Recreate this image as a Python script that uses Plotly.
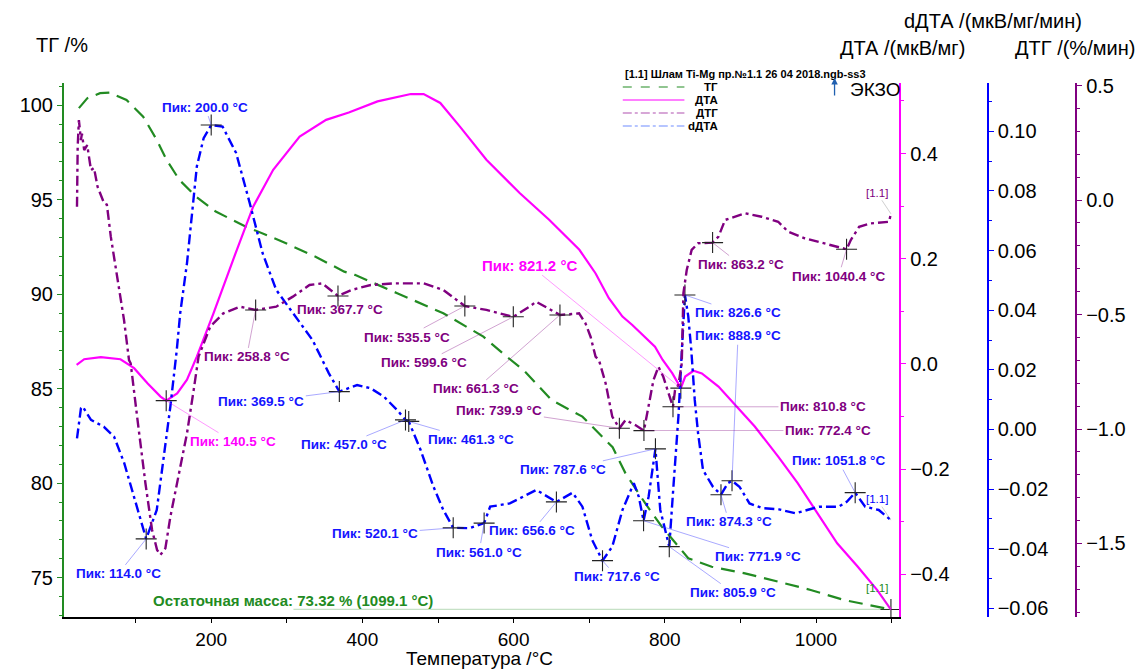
import numpy as np
import plotly.graph_objects as go

FONT = "Liberation Sans, Arial, sans-serif"

# ---------------- data ----------------
# ТГ (%)
tg_T = [25, 36, 53, 66, 88, 110, 128, 141, 158, 180, 206, 246, 289, 338, 376, 390, 446, 507, 560, 590, 613,
        650, 691, 713, 731, 748, 774, 796, 814, 831, 862, 906, 950, 993, 1037, 1072, 1099.1]
tg_v = [99.84, 100.36, 100.63, 100.66, 100.27, 99.39, 98.16, 97.10, 96.04, 95.16, 94.37, 93.57, 92.87, 91.98,
        91.19, 91.02, 90.05, 88.99, 87.75, 86.72, 85.99, 84.40, 83.52, 82.64, 81.90, 80.52, 78.94, 77.70, 76.82,
        76.03, 75.58, 75.23, 74.79, 74.35, 73.82, 73.56, 73.32]

# ДТА (мкВ/мг)
dta_T = [22, 32, 54, 80, 98, 116, 133, 140.5, 155, 168, 181, 203, 229, 255.5, 282, 317, 352, 382, 420, 464, 481,
         503, 529, 564, 608, 647, 687, 708.5, 726, 744, 757, 787, 797, 810, 821.2, 827, 838, 849, 871, 893, 919,
         950, 976, 1002, 1028, 1055, 1081, 1099.1]
dta_v = [-0.002, 0.009, 0.013, 0.009, -0.008, -0.037, -0.062, -0.0698, -0.056, -0.030, 0.014, 0.096, 0.198,
         0.299, 0.369, 0.432, 0.464, 0.478, 0.499, 0.513, 0.513, 0.496, 0.451, 0.388, 0.325, 0.274, 0.217, 0.172,
         0.125, 0.090, 0.074, 0.033, 0.008, -0.018, -0.046, -0.024, -0.013, -0.018, -0.043, -0.078, -0.119,
         -0.176, -0.227, -0.284, -0.341, -0.385, -0.430, -0.467]

# ДТГ (%/мин)
dtg_T = [22.5, 23.4, 25, 27.7, 29, 32, 36, 41, 45, 49.7, 58.4, 62, 67.2, 76, 84.7, 91.3, 93.5, 102, 113, 121.8,
         128.4, 132.8, 139.4, 146, 157, 168, 176.8, 183.3, 198.7, 216, 238, 258.8, 286, 308, 330, 347, 367.7,
         385.5, 411, 441.7, 481, 507, 535.5, 564, 599.6, 621, 629.8, 661.3, 686.6, 695, 701.8, 708.4, 713, 721.7,
         730.5, 739.9, 748, 752, 761, 772.4, 778.6, 785, 791.6, 798, 805, 810.8, 813.5, 818, 822.4, 824.6, 829,
         835.5, 844, 863.2, 871, 879.7, 906, 928, 950, 963, 985, 1011, 1040.4, 1046, 1057, 1072.6, 1096.6, 1099]
dtg_v = [-0.029, 0.233, 0.349, 0.262, 0.29, 0.218, 0.24, 0.131, 0.14, 0.058, -0.015, -0.02, -0.16, -0.349,
         -0.524, -0.699, -0.713, -0.946, -1.237, -1.441, -1.528, -1.55, -1.521, -1.383, -1.193, -1.019, -0.83,
         -0.684, -0.553, -0.495, -0.466, -0.48, -0.466, -0.422, -0.371, -0.364, -0.419, -0.393, -0.371, -0.364,
         -0.364, -0.393, -0.463, -0.48, -0.51, -0.466, -0.444, -0.502, -0.495, -0.538, -0.597, -0.684, -0.70,
         -0.80, -0.946, -0.997, -0.961, -0.968, -0.983, -1.007, -0.903, -0.786, -0.728, -0.772, -0.844, -0.903,
         -0.83, -0.808, -0.713, -0.407, -0.306, -0.218, -0.189, -0.186, -0.16, -0.087, -0.058, -0.073, -0.095,
         -0.138, -0.167, -0.189, -0.215, -0.175, -0.117, -0.102, -0.095, -0.06]

# dДТА (мкВ/мг/мин)
ddta_T = [22.5, 27.7, 30, 41, 58, 71.5, 85, 98, 111, 114, 128, 137, 146, 154.5, 159, 168, 174.5, 181, 190, 200,
          215, 233, 251, 268, 286, 312, 334, 347, 355.5, 369.5, 386, 393, 411, 428.5, 446, 457, 461.3, 477, 494,
          507, 520.1, 542, 561, 569, 595, 621, 630, 656.6, 678, 691, 704, 717.6, 730.5, 744, 759, 765.5, 771.9,
          778.6, 787.6, 794, 805.9, 811.7, 818, 822.6, 826.6, 831, 835, 839.6, 844, 850.5, 863.6, 874.3, 883.4,
          888.9, 898.7, 912, 929, 951, 973, 1004, 1030, 1041, 1051.8, 1065, 1083, 1099]
ddta_v = [-0.003, 0.0071, 0.0077, 0.0032, 0.0009, -0.0024, -0.0113, -0.0225, -0.0337, -0.0367, -0.027, -0.0102,
          0.0077, 0.0267, 0.039, 0.0558, 0.0725, 0.0882, 0.0977, 0.1021, 0.1016, 0.0927, 0.0759, 0.0591, 0.0468,
          0.0378, 0.030, 0.0233, 0.0189, 0.0127, 0.0144, 0.0149, 0.0138, 0.011, 0.0065, 0.0032, 0.0027, -0.0069,
          -0.0192, -0.027, -0.033, -0.0331, -0.0314, -0.0259, -0.0248, -0.0214, -0.0203, -0.0243, -0.0212,
          -0.0259, -0.0371, -0.044, -0.0393, -0.027, -0.018, -0.0225, -0.0306, -0.0225, -0.0065, -0.027, -0.0393,
          -0.018, 0.0043, 0.0267, 0.0451, 0.038, 0.0267, 0.0099, -0.0013, -0.0136, -0.0192, -0.0219, -0.018,
          -0.0172, -0.0192, -0.0248, -0.0264, -0.0268, -0.0281, -0.0259, -0.0259, -0.0242, -0.0212, -0.0259,
          -0.027, -0.0304]

# peaks
ddta_peaks = [114.0, 200.0, 369.5, 457.0, 461.3, 520.1, 561.0, 656.6, 717.6, 771.9, 787.6, 805.9, 826.6, 874.3,
              888.9, 1051.8]
dta_peaks = [140.5, 821.2]
dtg_peaks = [258.8, 367.7, 535.5, 599.6, 661.3, 739.9, 772.4, 810.8, 863.2, 1040.4]
residual_T = 1099.1
residual_mass = 73.32

# label offsets (pixels)
ddta_off = [(-28, 35), (-6, -18), (-78, 10), (-61, 25), (62, 18), (-78, 6), (-5, 29), (-24, 29), (14, 16),
            (114, 36), (-92, 21), (64, 46), (53, 18), (8, 27), (6, -145), (-17, -32)]
dta_off = [(67, 41), (-151, -123)]
dtg_off = [(-9, 47), (2, 14), (-58, 31), (-89, 46), (-84, 74), (-120, -18), (184, 0), (150, 0), (28, 22),
           (-8, 27)]

GREEN = "#228b22"
MAG = "#ff00ff"
BLUE = "#0000ff"
PURP = "#800080"

# ---------------- layout geometry ----------------
# page body has an 8px margin, so the figure is shifted by 8px; compensate
OFF = 8
W, H = 1143 - OFF, 670 - OFF
L, R, T_, B = 58 - OFF, 40, 83 - OFF, 53
PW, PH = W - L - R, H - T_ - B


def px(x):
    return (x - OFF - L) / PW


def py(y):
    return (T_ + PH - (y - OFF)) / PH


fig = go.Figure()

fig.add_trace(go.Scatter(x=tg_T, y=tg_v, mode="lines", yaxis="y",
                         line=dict(color=GREEN, width=2.2, dash="14px,8px"), name="ТГ"))
fig.add_trace(go.Scatter(x=dta_T, y=dta_v, mode="lines", yaxis="y2",
                         line=dict(color=MAG, width=2.2), name="ДТА"))
fig.add_trace(go.Scatter(x=dtg_T, y=dtg_v, mode="lines", yaxis="y4",
                         line=dict(color=PURP, width=2.4, dash="10px,4px,3px,4px"), name="ДТГ"))
fig.add_trace(go.Scatter(x=ddta_T, y=ddta_v, mode="lines", yaxis="y3",
                         line=dict(color=BLUE, width=2.4, dash="10px,4px,3px,4px"), name="dДТА"))

# peak markers
ddta_pv = list(np.interp(ddta_peaks, ddta_T, ddta_v))
dta_pv = list(np.interp(dta_peaks, dta_T, dta_v))
dtg_pv = list(np.interp(dtg_peaks, dtg_T, dtg_v))
mk = dict(symbol="cross-thin", size=15, line=dict(color="#222222", width=1.1))
fig.add_trace(go.Scatter(x=ddta_peaks, y=ddta_pv, mode="markers", yaxis="y3", marker=mk))
fig.add_trace(go.Scatter(x=dta_peaks, y=dta_pv, mode="markers", yaxis="y2", marker=mk))
fig.add_trace(go.Scatter(x=dtg_peaks, y=dtg_pv, mode="markers", yaxis="y4", marker=mk))
fig.add_trace(go.Scatter(x=[residual_T], y=[residual_mass], mode="markers", yaxis="y", marker=mk))

ann = []


def peak_ann(T, v, yref, off, color, acolor, size=13.5):
    ann.append(dict(x=T, y=v, xref="x", yref=yref, ax=off[0], ay=off[1], showarrow=True, arrowhead=0,
                    arrowwidth=0.8, arrowcolor=acolor, standoff=0, startstandoff=0,
                    text="Пик: %.1f °C" % T,
                    font=dict(family=FONT, size=size, color=color, weight="bold")))


for T, v, o in zip(ddta_peaks, ddta_pv, ddta_off):
    peak_ann(T, v, "y3", o, "#1414ff", "rgba(60,60,255,0.55)")
for i, (T, v, o) in enumerate(zip(dta_peaks, dta_pv, dta_off)):
    peak_ann(T, v, "y2", o, MAG, "rgba(255,0,255,0.5)", 13.5 if i == 0 else 15)
for T, v, o in zip(dtg_peaks, dtg_pv, dtg_off):
    peak_ann(T, v, "y4", o, PURP, "rgba(128,0,128,0.45)")


# paper-space text helper
def txt(x, y, s, size=20, xanchor="center", color="black", weight="normal"):
    ann.append(dict(x=px(x), y=py(y), xref="paper", yref="paper", text=s, showarrow=False,
                    xanchor=xanchor, yanchor="middle",
                    font=dict(family=FONT, size=size, color=color, weight=weight)))


# residual mass: connector line + label
ann.append(dict(x=residual_T, y=residual_mass, xref="x", yref="y", ax=-599, ay=0, showarrow=True,
                arrowhead=0, arrowwidth=1.2, arrowcolor="rgba(34,139,34,0.25)", standoff=0, text=""))
txt(145, 600, "Остаточная масса: %.2f %% (%.1f °C)" % (residual_mass, residual_T), size=15, xanchor="left",
    color=GREEN, weight="bold")

# [1.1] end tags
for xx, yy, yref, col in [(ddta_T[-1], ddta_v[-1], "y3", BLUE), (dtg_T[-1], dtg_v[-1], "y4", PURP),
                          (tg_T[-1], tg_v[-1], "y", GREEN)]:
    ann.append(dict(x=xx, y=yy, xref="x", yref=yref, ax=-14, ay=-21, showarrow=True, arrowhead=0,
                    arrowwidth=0.7, arrowcolor="rgba(120,120,120,0.5)", text="[1.1]",
                    font=dict(family=FONT, size=11.5, color=col)))

# axis titles
txt(56, 45, "ТГ /%")
txt(992, 21, "dДТА /(мкВ/мг/мин)")
txt(966, 48, "ДТА /(мкВ/мг)", xanchor="right")
txt(1075, 48, "ДТГ /(%/мин)")
txt(476, 658.5, "Температура /°C", size=19)

# legend (drawn manually)
txt(620, 74, "[1.1] Шлам Ti-Mg пр.№1.1 26 04 2018.ngb-ss3", size=11, xanchor="left", weight="bold")
shapes = []
leg = [("ТГ", 87, GREEN, "dash"), ("ДТА", 100, MAG, "solid"), ("ДТГ", 113, "#b050b0", "dashdot"),
       ("dДТА", 126, "#6f8cff", "dashdot")]
for name, yy, col, dash in leg:
    shapes.append(dict(type="line", xref="paper", yref="paper", x0=px(620), x1=px(682), y0=py(yy), y1=py(yy),
                       line=dict(color=col, width=1.2, dash=dash)))
    txt(718, yy, name, size=11.5, xanchor="right", weight="bold")

# EXO arrow
ann.append(dict(x=px(833), y=py(78), xref="paper", yref="paper", ax=0, ay=19, showarrow=True, arrowhead=2,
                arrowsize=1, arrowwidth=1.3, arrowcolor="#2060b0", text=""))
txt(847, 89, "ЭКЗО", size=19, xanchor="left")

tickfont = dict(family=FONT, size=20, color="black")
xtickfont = dict(family=FONT, size=19, color="black")
xdom_end = px(898)

fig.update_layout(
    width=W, height=H, margin=dict(l=L, r=R, t=T_, b=B),
    paper_bgcolor="white", plot_bgcolor="white", showlegend=False,
    xaxis=dict(domain=[0, xdom_end], range=[5.3, 1110], showgrid=False, zeroline=False, showline=True,
               linecolor="black", linewidth=1.5, ticks="outside", ticklen=4, tickcolor="black",
               tick0=0, dtick=200, tickfont=xtickfont,
               minor=dict(dtick=100, ticks="outside", ticklen=4, tickcolor="black", showgrid=False)),
    yaxis=dict(range=[72.92, 101.17], showgrid=False, zeroline=False, showline=True, linecolor=GREEN,
               linewidth=2, ticks="outside", ticklen=5, tickcolor=GREEN, tick0=0, dtick=5, tickfont=tickfont,
               minor=dict(dtick=1, ticks="outside", ticklen=3, tickcolor=GREEN, showgrid=False)),
    yaxis2=dict(range=[-0.481, 0.534], overlaying="y", side="right", anchor="x", showgrid=False,
                zeroline=False, showline=True, linecolor=MAG, linewidth=2, ticks="outside", ticklen=5,
                tickcolor=MAG, tick0=0, dtick=0.2, tickformat=".1f", tickfont=tickfont,
                minor=dict(dtick=0.1, ticks="outside", ticklen=3, tickcolor=MAG, showgrid=False)),
    yaxis3=dict(range=[-0.0629, 0.1162], overlaying="y", side="right", anchor="free", position=px(987),
                showgrid=False, zeroline=False, showline=True, linecolor=BLUE, linewidth=2, ticks="outside",
                ticklen=5, tickcolor=BLUE, tick0=0, dtick=0.02, tickformat=".2f", tickfont=tickfont,
                minor=dict(dtick=0.01, ticks="outside", ticklen=3, tickcolor=BLUE, showgrid=False)),
    yaxis4=dict(range=[-1.821, 0.511], overlaying="y", side="right", anchor="free", position=px(1076),
                showgrid=False, zeroline=False, showline=True, linecolor=PURP, linewidth=2, ticks="outside",
                ticklen=5, tickcolor=PURP, tick0=0, dtick=0.5, tickformat=".1f", tickfont=tickfont,
                minor=dict(dtick=0.1, ticks="outside", ticklen=3, tickcolor=PURP, showgrid=False)),
    annotations=ann, shapes=shapes,
)

fig.write_html("out.html")
